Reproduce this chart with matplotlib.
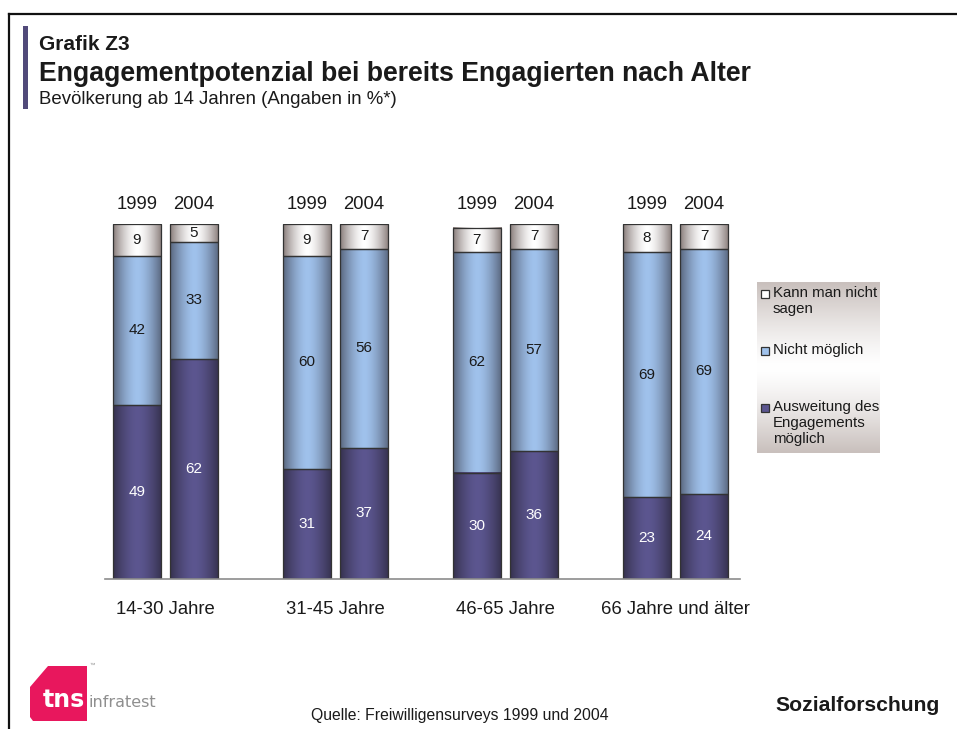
import numpy as np
import matplotlib
matplotlib.use("Agg")
import matplotlib.pyplot as plt
from matplotlib.patches import Rectangle, Polygon
from matplotlib.colors import LinearSegmentedColormap

plt.rcParams['font.family'] = ['Liberation Sans', 'DejaVu Sans']

# data
groups = ["14-30 Jahre", "31-45 Jahre", "46-65 Jahre", "66 Jahre und älter"]
years = ["1999", "2004"]
ausweitung = [[49, 62], [31, 37], [30, 36], [23, 24]]
nicht_moeglich = [[42, 33], [60, 56], [62, 57], [69, 69]]
kann_nicht = [[9, 5], [9, 7], [7, 7], [8, 7]]
legend_labels = ["Kann man nicht\nsagen", "Nicht möglich", "Ausweitung des\nEngagements\nmöglich"]

W, H = 957, 729
fig = plt.figure(figsize=(W / 100, H / 100), dpi=100)

def fx(px):
    return px / W

def fy(py):
    return 1 - py / H

# frame lines + purple title marker
fig.add_artist(plt.Line2D([fx(9), 1], [fy(14), fy(14)], color="#111111", lw=1.6))
fig.add_artist(plt.Line2D([fx(9), fx(9)], [fy(14), 0], color="#111111", lw=1.6))
fig.add_artist(Rectangle((fx(23), fy(109)), fx(5), fy(26) - fy(109), transform=fig.transFigure,
                         color="#514a7a", lw=0))

fig.text(fx(39), fy(50), "Grafik Z3", fontsize=15, fontweight="bold", color="#1a1a1a")
fig.text(fx(39), fy(81), "Engagementpotenzial bei bereits Engagierten nach Alter", fontsize=19.2,
         fontweight="bold", color="#1a1a1a")
fig.text(fx(39), fy(104), "Bevölkerung ab 14 Jahren (Angaben in %*)", fontsize=13.4, color="#1a1a1a")

# chart axes
ax = fig.add_axes([fx(105), fy(579), fx(740) - fx(105), fy(224) - fy(579)])
for s in ax.spines.values():
    s.set_visible(False)
ax.set_xticks([])
ax.set_yticks([])

edge_cols = [("#36324f", "#5c5690"), ("#5a677f", "#a0c2ec"), ("#8a7e7c", "#ffffff")]
cmaps = [LinearSegmentedColormap.from_list("c%d" % i, [e, c]) for i, (e, c) in enumerate(edge_cols)]
u = np.linspace(0, 1, 64)
prof = (1 - np.abs(2 * u - 1) ** 1.6)[None, :]

offs = [-0.168, 0.168]
width = 0.283
x = np.arange(len(groups))
series = [ausweitung, nicht_moeglich, kann_nicht]
txt_cols = ["white", "#1a1a1a", "#1a1a1a"]
for j, yr in enumerate(years):
    xs = x + offs[j]
    bottom = np.zeros(len(groups))
    for k, ser in enumerate(series):
        vals = np.array([v[j] for v in ser], dtype=float)
        bars = ax.bar(xs, vals, width, bottom=bottom, facecolor="none", edgecolor="#333333", lw=0.9,
                      zorder=3)
        for b, v in zip(bars, vals):
            ax.imshow(prof, cmap=cmaps[k], aspect="auto", interpolation="bicubic",
                      extent=[b.get_x(), b.get_x() + b.get_width(), b.get_y(), b.get_y() + b.get_height()],
                      zorder=2)
            ax.text(b.get_x() + b.get_width() / 2, b.get_y() + b.get_height() / 2, "%d" % v,
                    ha="center", va="center", fontsize=11, color=txt_cols[k], zorder=4)
        bottom += vals
    for xx in xs:
        ax.text(xx, 105.5, yr, ha="center", va="center", fontsize=13.3, color="#1a1a1a", clip_on=False)
ax.set_xlim(-0.356, 3.38)
ax.set_ylim(0, 100)
ax.axhline(0, color="#8c8c8c", lw=1.2, clip_on=False, zorder=5)
for xx, g in zip(x, groups):
    ax.text(xx, -8.5, g, ha="center", va="center", fontsize=13.3, color="#1a1a1a", clip_on=False)

# legend with vertical gradient background
lax = fig.add_axes([fx(757), fy(453), fx(880) - fx(757), fy(282) - fy(453)])
lax.axis("off")
v = np.abs(np.linspace(-1, 1, 100)) ** 1.3
bg = LinearSegmentedColormap.from_list("bg", ["#ffffff", "#c9c0bd"])
lax.imshow(v[:, None], cmap=bg, aspect="auto", extent=[0, 1, 0, 1], interpolation="bicubic")
lax.set_xlim(0, 1)
lax.set_ylim(0, 1)
leg_y = [294, 351, 408]
for lab, py, (e, c) in zip(legend_labels, leg_y, edge_cols[::-1]):
    fig.add_artist(Rectangle((fx(761), fy(py + 4)), fx(8), fy(py - 4) - fy(py + 4),
                             transform=fig.transFigure, facecolor=c, edgecolor="#333333", lw=0.9))
    fig.text(fx(773), fy(py - 8), lab, fontsize=10.8, color="#1a1a1a", va="top", ha="left",
             linespacing=1.2)

# footer
logo = Polygon([(fx(30), fy(687)), (fx(48), fy(666)), (fx(87), fy(666)), (fx(87), fy(721)),
                (fx(33), fy(721)), (fx(30), fy(717))], closed=True, transform=fig.transFigure,
               facecolor="#e8175d", lw=0)
fig.add_artist(logo)
fig.text(fx(64), fy(707), "tns", fontsize=17, fontweight="bold", color="white", ha="center",
         va="baseline", family=["DejaVu Sans Condensed", "DejaVu Sans"])
fig.text(fx(88), fy(707), "infratest", fontsize=11.5, color="#8f8f8f", ha="left", va="baseline",
         family=["DejaVu Sans Condensed", "DejaVu Sans"])
fig.text(fx(89), fy(667), "™", fontsize=4, color="#8f8f8f", ha="left", va="baseline")
fig.text(fx(460), fy(720), "Quelle: Freiwilligensurveys 1999 und 2004", fontsize=11.3, color="#1a1a1a",
         ha="center", va="baseline")
fig.text(fx(940), fy(711), "Sozialforschung", fontsize=15.2, fontweight="bold", color="#1a1a1a",
         ha="right", va="baseline")

fig.savefig("out.png", dpi=100)
